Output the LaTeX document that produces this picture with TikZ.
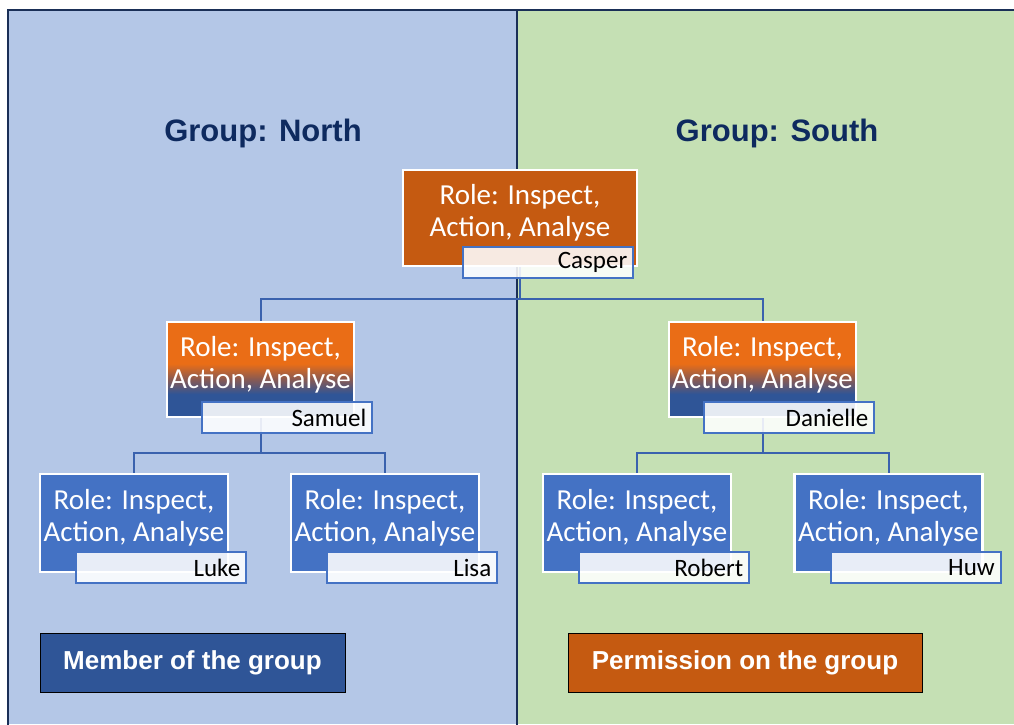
\documentclass[tikz,border=0pt]{standalone}
\usepackage{fontspec}
\setmainfont{Carlito}
\newfontfamily\headfont{Liberation Sans}
\usetikzlibrary{positioning,backgrounds}

\definecolor{panelblue}{HTML}{B4C7E7}
\definecolor{panelgreen}{HTML}{C5E0B4}
\definecolor{framenavy}{HTML}{1A2F57}
\definecolor{titleblue}{HTML}{0E2A5F}
\definecolor{burnt}{HTML}{C55A11}
\definecolor{brightorange}{HTML}{EA6D16}
\definecolor{midbrown}{HTML}{8A5A52}
\definecolor{deepblue}{HTML}{2F5597}
\definecolor{leafblue}{HTML}{4472C4}
\definecolor{linkblue}{HTML}{3A62AE}

\pgfdeclareverticalshading{rolefade}{100bp}{color(0bp)=(deepblue); color(37bp)=(deepblue); color(45bp)=(midbrown); color(53bp)=(brightorange); color(100bp)=(brightorange)}

\begin{document}
\begin{tikzpicture}[x=1pt, y=-1pt,
  role/.style={draw=white, line width=2.5pt, text=white, align=center, font=\fontsize{29}{32}\selectfont, inner sep=0pt, text depth=15pt},
  toprole/.style={role, fill=burnt, minimum width=234pt, minimum height=96pt},
  midrole/.style={role, shade, shading=rolefade, minimum width=187pt, minimum height=95pt},
  leafrole/.style={role, fill=leafblue, minimum width=188pt, minimum height=98pt},
  person/.style={draw=leafblue, line width=2pt, fill=white, fill opacity=0.88, text opacity=1, text=black, font=\fontsize{25}{28}\selectfont, text width=158pt, align=right, inner xsep=6pt, inner ysep=0pt, minimum height=31pt, anchor=north east},
  link/.style={draw=linkblue, line width=2pt},
  heading/.style={text=titleblue, font=\headfont\bfseries\fontsize{31}{36}\selectfont},
  legend/.style={draw=black, line width=0.8pt, text=white, font=\headfont\bfseries\fontsize{26}{30}\selectfont, minimum height=59pt}]

\useasboundingbox (0,0) rectangle (1014,724);

% group titles
\node[heading] (northtitle) at (263,133) {Group: North};
\node[heading] (southtitle) at (777,133) {Group: South};

% top role
\node[toprole] (casper) at (520,218) {Role: Inspect,\\Action, Analyse};
\node[person] (caspername) at ([xshift=-4pt,yshift=21pt]casper.south east) {Casper};

% second level
\node[midrole] (samuel) at (260.5,369.5) {Role: Inspect,\\Action, Analyse};
\node[person] (samuelname) at ([xshift=18pt,yshift=17pt]samuel.south east) {Samuel};
\node[midrole] (danielle) at (762.5,369.5) {Role: Inspect,\\Action, Analyse};
\node[person] (daniellename) at ([xshift=18pt,yshift=17pt]danielle.south east) {Danielle};

% members
\node[leafrole] (luke) at (134,523) {Role: Inspect,\\Action, Analyse};
\node[person] (lukename) at ([xshift=18pt,yshift=22pt]luke.south east) {Luke};
\node[leafrole] (lisa) at (385,523) {Role: Inspect,\\Action, Analyse};
\node[person] (lisaname) at ([xshift=18pt,yshift=22pt]lisa.south east) {Lisa};
\node[leafrole] (robert) at (637,523) {Role: Inspect,\\Action, Analyse};
\node[person] (robertname) at ([xshift=18pt,yshift=22pt]robert.south east) {Robert};
\node[leafrole] (huw) at (888.5,523) {Role: Inspect,\\Action, Analyse};
\node[person] (huwname) at ([xshift=18pt,yshift=22pt]huw.south east) {Huw};

% legend
\node[legend, fill=deepblue, minimum width=305pt] (member) at (192.5,662.5) {Member of the group};
\node[legend, fill=burnt, minimum width=354pt] (permission) at (745,662.5) {Permission on the group};

\begin{scope}[on background layer]
\fill[white] (0,0) rectangle (1014,724);
\fill[panelblue] (8,10) rectangle (517,724);
\fill[panelgreen] (517,10) rectangle (1014,724);
\draw[framenavy, line width=2.5pt] (8,730) -- (8,10) -- (1020,10);
\draw[framenavy, line width=2.5pt] (517,10) -- (517,730);
% tree links
\draw[link] (casper.south) -- ++(0,32) -| (samuel.north);
\draw[link] (casper.south) -- ++(0,32) -| (danielle.north);
\draw[link] (samuel.south) -- ++(0,35) -| (luke.north);
\draw[link] (samuel.south) -- ++(0,35) -| (lisa.north);
\draw[link] (danielle.south) -- ++(0,35) -| (robert.north);
\draw[link] (danielle.south) -- ++(0,35) -| (huw.north);
\end{scope}

\end{tikzpicture}
\end{document}
